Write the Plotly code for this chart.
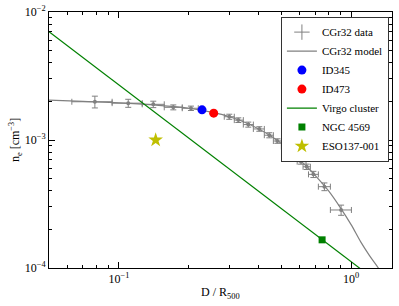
import plotly.graph_objects as go

# CGr32 data points
data_x = [0.0788, 0.1097, 0.1406, 0.1715, 0.2043, 0.2988, 0.3268, 0.3608, 0.4024,
          0.4444, 0.4812, 0.5159, 0.5641, 0.6088, 0.6436, 0.6879, 0.7674, 0.9055]
data_y = [0.00199, 0.00194, 0.00190, 0.00180, 0.00177, 0.00152, 0.00143, 0.00132, 0.00122,
          0.00109, 0.000982, 0.000887, 0.000764, 0.000677, 0.000618, 0.000539, 0.000432, 0.000284]
data_x_lo = [0.0627, 0.0935, 0.1260, 0.1568, 0.1874, 0.2843, 0.3140, 0.3434, 0.3793,
             0.4229, 0.4626, 0.5006, 0.5367, 0.5858, 0.6210, 0.6553, 0.7227, 0.8142]
data_x_hi = [0.0935, 0.1260, 0.1568, 0.1874, 0.2197, 0.3140, 0.3434, 0.3793, 0.4229,
             0.4626, 0.5006, 0.5421, 0.5969, 0.6397, 0.6678, 0.7227, 0.8142, 1.003]
data_y_err = [0.00021, 0.00014, 0.00011, 0.00008, 0.00007, 0.00007, 0.00006, 0.00006, 0.00005,
              0.00005, 0.00004, 0.00004, 0.00004, 0.00003, 0.00003, 0.00003, 0.00003, 0.000026]

# CGr32 model curve
model_x = [0.05, 0.07, 0.1, 0.14, 0.2, 0.25, 0.3, 0.35, 0.4, 0.45, 0.5, 0.55, 0.6,
           0.65, 0.7, 0.75, 0.8, 0.9, 1.0, 1.1, 1.2, 1.31, 1.4]
model_y = [0.00205, 0.00200, 0.00195, 0.00188, 0.00177, 0.00165, 0.00152, 0.00137, 0.00122,
           0.00108, 0.00094, 0.00082, 0.00070, 0.00061, 0.00053, 0.00046, 0.00040, 0.000295,
           0.000218, 0.000160, 0.000125, 0.000100, 0.000080]

# Virgo cluster profile
virgo_x = [0.05, 1.5]
virgo_y = [0.00702, 0.000064]

# Single objects
id345 = (0.228, 0.00172)
id473 = (0.256, 0.00162)
ngc4569 = (0.75, 0.000166)
eso137 = (0.144, 0.00100)

x_tick_vals = [0.1, 1]
x_tick_text = ["10<sup>−1</sup>", "10<sup>0</sup>"]
y_tick_vals = [1e-4, 1e-3, 1e-2]
y_tick_text = ["10<sup>−4</sup>", "10<sup>−3</sup>", "10<sup>−2</sup>"]

gray = "#808080"
serif = "Liberation Serif"

fig = go.Figure()

# legend-only stand-in for error-bar data
fig.add_trace(go.Scatter(x=[None], y=[None], mode="markers", name="CGr32 data",
                         marker=dict(symbol="cross-thin", size=11, color=gray,
                                     line=dict(color=gray, width=1))))
fig.add_trace(go.Scatter(
    x=data_x, y=data_y, mode="markers", showlegend=False,
    marker=dict(symbol="circle", size=4, color=gray),
    error_x=dict(type="data", symmetric=False,
                 array=[h - x for h, x in zip(data_x_hi, data_x)],
                 arrayminus=[x - l for x, l in zip(data_x, data_x_lo)],
                 color=gray, thickness=1, width=3),
    error_y=dict(type="data", array=data_y_err, color=gray, thickness=1, width=3),
))
fig.add_trace(go.Scatter(x=model_x, y=model_y, mode="lines", name="CGr32 model",
                         line=dict(color=gray, width=1.2, shape="spline")))
fig.add_trace(go.Scatter(x=[id345[0]], y=[id345[1]], mode="markers", name="ID345",
                         marker=dict(symbol="circle", size=9, color="#0000ff")))
fig.add_trace(go.Scatter(x=[id473[0]], y=[id473[1]], mode="markers", name="ID473",
                         marker=dict(symbol="circle", size=9, color="#ff0000")))
fig.add_trace(go.Scatter(x=virgo_x, y=virgo_y, mode="lines", name="Virgo cluster",
                         line=dict(color="#008000", width=1.2)))
fig.add_trace(go.Scatter(x=[ngc4569[0]], y=[ngc4569[1]], mode="markers", name="NGC 4569",
                         marker=dict(symbol="square", size=7, color="#008000")))
fig.add_trace(go.Scatter(x=[eso137[0]], y=[eso137[1]], mode="markers", name="ESO137-001",
                         marker=dict(symbol="star", size=11, color="#bfbf00")))

x_minor = [0.06, 0.07, 0.08, 0.09, 0.2, 0.3, 0.4, 0.5, 0.6, 0.7, 0.8, 0.9]
y_minor = [v * 1e-4 for v in range(2, 10)] + [v * 1e-3 for v in range(2, 10)]

fig.update_xaxes(type="log", range=[-1.30103, 0.176091], automargin=False,
                 tickvals=x_tick_vals, ticktext=x_tick_text,
                 ticks="inside", ticklen=6, tickcolor="black",
                 minor=dict(tickvals=x_minor, ticks="inside", ticklen=3, tickcolor="black"),
                 showline=True, linecolor="black", linewidth=1, mirror="ticks",
                 showgrid=False, zeroline=False,
                 tickfont=dict(family=serif, size=12, color="black"))
fig.update_yaxes(type="log", range=[-4, -2], automargin=False,
                 tickvals=y_tick_vals, ticktext=y_tick_text,
                 ticks="inside", ticklen=6, tickcolor="black",
                 minor=dict(tickvals=y_minor, ticks="inside", ticklen=3, tickcolor="black"),
                 showline=True, linecolor="black", linewidth=1, mirror="ticks",
                 showgrid=False, zeroline=False,
                 tickfont=dict(family=serif, size=12, color="black"))

fig.update_layout(
    width=399, height=306, autosize=False,
    margin=dict(l=49, r=7, t=12, b=38),
    paper_bgcolor="white", plot_bgcolor="white",
    font=dict(family=serif, size=11, color="black"),
    legend=dict(x=0.991, y=0.982, xanchor="right", yanchor="top",
                bgcolor="white", bordercolor="#333333", borderwidth=1,
                font=dict(family=serif, size=11, color="black"),
                tracegroupgap=0, itemwidth=30),
    annotations=[
        dict(text="D / R<sub>500</sub>", xref="paper", yref="paper", x=0.5, y=-0.098,
             xanchor="center", yanchor="middle", showarrow=False,
             font=dict(family=serif, size=12, color="black")),
        dict(text="n<sub>e</sub> [cm<sup>−3</sup>]", xref="paper", yref="paper", x=-0.099, y=0.5,
             xanchor="center", yanchor="middle", showarrow=False, textangle=-90,
             font=dict(family=serif, size=12, color="black")),
    ],
)

fig.write_html("out.html", config={"responsive": False, "displayModeBar": False},
               post_script="document.body.style.margin='0';document.body.style.overflow='hidden';")
